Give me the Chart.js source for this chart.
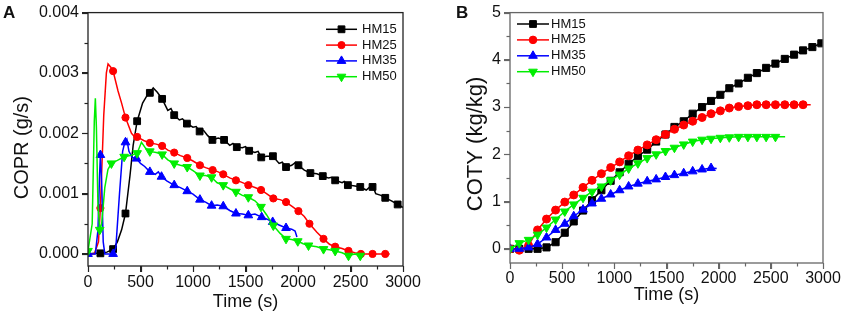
<!DOCTYPE html>
<html>
<head>
<meta charset="utf-8">
<script src="https://cdn.jsdelivr.net/npm/chart.js@4.4.1/dist/chart.umd.min.js"></script>
<style>
  html, body { margin: 0; padding: 0; background: #fff; }
  body { width: 844px; height: 314px; position: relative; overflow: hidden; font-family: "Liberation Sans", Arial, sans-serif; }
  .panel { position: absolute; top: 0; width: 422px; height: 314px; }
  .tag { position: absolute; top: 4px; font-size: 17px; font-weight: bold; line-height: 1; color: #111; }
</style>
</head>
<body>
<div class="panel" style="left:0"><canvas id="chartA" width="422" height="314"></canvas></div>
<div class="panel" style="left:422px"><canvas id="chartB" width="422" height="314"></canvas></div>
<div class="tag" style="left:3px">A</div>
<div class="tag" style="left:456px">B</div>
<script>
const seriesNames = ["HM15", "HM25", "HM35", "HM50"];
const seriesColors = ["#000000", "#ff0000", "#0000ff", "#00ee00"];
const markerStyles = ["rect", "circle", "triangle", "triangle"];
const markerRotations = [0, 0, 0, 180];

// Panel A - COPR (g/s), [time, value]
const hm15LineA = [[0,0],[60,0.00001],[118,0.00001],[180,0.00003],[239,0.00008],[280,0.0002],[320,0.0004],[357,0.00067],[400,0.0013],[430,0.0018],[468,0.0022],[520,0.0025],[560,0.00262],[589,0.00267],[621,0.00275],[660,0.00268],[706,0.00257],[760,0.00238],[790,0.00241],[821,0.0023],[870,0.00222],[900,0.00224],[942,0.00216],[1000,0.0021],[1030,0.00211],[1063,0.00203],[1100,0.00205],[1140,0.00196],[1185,0.00189],[1240,0.00192],[1296,0.00189],[1350,0.0018],[1380,0.00183],[1417,0.00177],[1470,0.00176],[1500,0.00178],[1535,0.00171],[1590,0.00168],[1620,0.0017],[1650,0.0016],[1700,0.00162],[1761,0.00162],[1820,0.0015],[1850,0.00152],[1886,0.00144],[1940,0.00147],[1970,0.00151],[2004,0.00147],[2060,0.00139],[2118,0.00134],[2180,0.00133],[2236,0.00129],[2290,0.00126],[2320,0.00127],[2354,0.00122],[2420,0.00118],[2440,0.0012],[2475,0.00114],[2530,0.00113],[2593,0.00111],[2650,0.00106],[2690,0.00112],[2710,0.00114],[2740,0.001],[2790,0.00097],[2831,0.00093],[2890,0.00088],[2949,0.00082],[3000,0.00077]];
const hm15MarksA = [[118,0.00001],[239,0.00008],[357,0.00067],[468,0.0022],[589,0.00267],[706,0.00257],[821,0.0023],[942,0.00216],[1063,0.00203],[1185,0.00189],[1296,0.00189],[1417,0.00177],[1535,0.00171],[1650,0.0016],[1761,0.00162],[1886,0.00144],[2004,0.00147],[2118,0.00134],[2236,0.00129],[2354,0.00122],[2475,0.00114],[2593,0.00111],[2710,0.00111],[2831,0.00093],[2949,0.00082]];

const hm25LineA = [[0,0],[60,0],[100,0.0002],[118,0.00076],[150,0.0023],[175,0.003],[191,0.00315],[215,0.0031],[239,0.00303],[286,0.0027],[320,0.0025],[357,0.00226],[414,0.002],[440,0.00195],[468,0.00194],[530,0.00188],[589,0.00184],[650,0.00182],[706,0.00179],[760,0.00172],[821,0.00168],[880,0.00163],[945,0.00159],[1000,0.00154],[1066,0.00147],[1120,0.00143],[1187,0.00139],[1240,0.00136],[1288,0.00132],[1350,0.00126],[1409,0.00122],[1460,0.00119],[1527,0.00114],[1590,0.0011],[1648,0.00106],[1700,0.001],[1765,0.00092],[1830,0.0009],[1886,0.00086],[1950,0.00078],[2004,0.00071],[2060,0.00062],[2109,0.0005],[2180,0.00036],[2243,0.00025],[2300,0.00016],[2354,0.00012],[2420,0.00009],[2481,0.00005],[2540,0.00002],[2599,0],[2710,0],[2831,0],[2873,0]];
const hm25MarksA = [[118,0.00076],[239,0.00303],[357,0.00226],[468,0.00194],[589,0.00184],[706,0.00179],[821,0.00168],[945,0.00159],[1066,0.00147],[1187,0.00139],[1288,0.00132],[1409,0.00122],[1527,0.00114],[1648,0.00106],[1765,0.00092],[1886,0.00086],[2004,0.00071],[2109,0.0005],[2243,0.00025],[2354,0.00012],[2481,0.00005],[2599,0],[2710,0],[2831,0]];

const hm35LineA = [[0,0],[70,0],[95,0.0004],[110,0.0013],[118,0.00164],[130,0.0012],[145,0.0002],[160,0],[239,0],[265,0.0001],[300,0.001],[330,0.0017],[350,0.00185],[370,0.0019],[390,0.0017],[420,0.0016],[462,0.00158],[500,0.0015],[540,0.00145],[589,0.00136],[640,0.00132],[670,0.00136],[700,0.00128],[750,0.00121],[790,0.00117],[821,0.00114],[880,0.0011],[945,0.00104],[1000,0.00099],[1066,0.0009],[1120,0.00086],[1177,0.0008],[1230,0.00081],[1288,0.00079],[1350,0.00072],[1409,0.00067],[1470,0.00066],[1527,0.00064],[1590,0.00066],[1654,0.00061],[1700,0.00058],[1759,0.00053],[1820,0.00048],[1886,0.00043],[1940,0.00041],[1972,0.00038],[1990,0.00028]];
const hm35MarksA = [[0,0],[118,0.00164],[239,0],[357,0.00185],[462,0.00158],[589,0.00136],[700,0.00128],[821,0.00114],[945,0.00104],[1066,0.0009],[1177,0.0008],[1288,0.00079],[1409,0.00067],[1527,0.00064],[1654,0.00061],[1759,0.00053],[1886,0.00043]];

const hm50LineA = [[0,0.00005],[40,0.0005],[60,0.0022],[70,0.00258],[80,0.0021],[95,0.0008],[112,0.0004],[130,0.0005],[160,0.0011],[190,0.0014],[223,0.0015],[280,0.00155],[344,0.00161],[400,0.00163],[468,0.00167],[509,0.00185],[550,0.00175],[589,0.0017],[650,0.00168],[706,0.00165],[760,0.00156],[821,0.0015],[880,0.00147],[945,0.00144],[1000,0.00138],[1066,0.0013],[1120,0.0013],[1177,0.00127],[1230,0.00118],[1288,0.00114],[1350,0.00108],[1409,0.00103],[1470,0.00097],[1527,0.00094],[1590,0.00088],[1648,0.00078],[1700,0.00065],[1765,0.00047],[1830,0.00034],[1886,0.00025],[1940,0.00024],[1998,0.00021],[2050,0.00017],[2100,0.00014],[2180,0.00012],[2243,0.00008],[2300,0.00007],[2354,0.00005],[2420,0.00002],[2481,-0.00003],[2540,0],[2593,-0.00003],[2630,0]];
const hm50MarksA = [[0,0.00005],[112,0.0004],[223,0.0015],[344,0.00161],[468,0.00167],[589,0.0017],[706,0.00165],[821,0.0015],[945,0.00144],[1066,0.0013],[1177,0.00127],[1288,0.00114],[1409,0.00103],[1527,0.00094],[1648,0.00078],[1765,0.00047],[1886,0.00025],[1998,0.00021],[2100,0.00014],[2243,0.00008],[2354,0.00005],[2481,-0.00003],[2593,-0.00003]];

const xTicksA = [0, 500, 1000, 1500, 2000, 2500, 3000];
const yTicksA = [0, 0.001, 0.002, 0.003, 0.004];

// Panel B - COTY (kg/kg), sampled at shared times
const timeB = [0, 89, 178, 264, 350, 437, 525, 611, 700, 786, 876, 965, 1051, 1137, 1226, 1315, 1401, 1490, 1576, 1665, 1751, 1841, 1927, 2016, 2102, 2191, 2280, 2366, 2455, 2544, 2634, 2723, 2809, 2898, 2984];
const hm15B = [0, 0, 0, 0, 0.03, 0.14, 0.34, 0.58, 0.81, 1.03, 1.24, 1.44, 1.62, 1.8, 1.96, 2.1, 2.27, 2.42, 2.58, 2.7, 2.86, 3.0, 3.13, 3.26, 3.4, 3.5, 3.62, 3.72, 3.83, 3.92, 4.02, 4.11, 4.2, 4.27, 4.35];
const hm25B = [0, -0.03, 0.07, 0.4, 0.63, 0.82, 0.99, 1.14, 1.3, 1.45, 1.59, 1.72, 1.84, 1.97, 2.09, 2.2, 2.31, 2.42, 2.53, 2.62, 2.7, 2.78, 2.86, 2.92, 2.98, 3.01, 3.03, 3.05, 3.05, 3.05, 3.05, 3.05, 3.05];
const hm35B = [0, 0, 0.03, 0.1, 0.24, 0.4, 0.53, 0.69, 0.83, 0.96, 1.06, 1.15, 1.24, 1.32, 1.38, 1.43, 1.47, 1.52, 1.56, 1.6, 1.64, 1.68, 1.71];
const hm50B = [0, 0.12, 0.19, 0.3, 0.45, 0.62, 0.79, 0.94, 1.08, 1.21, 1.32, 1.45, 1.57, 1.7, 1.81, 1.92, 2.0, 2.07, 2.14, 2.21, 2.27, 2.31, 2.33, 2.35, 2.36, 2.37, 2.37, 2.37, 2.37, 2.37];
const tailB = [[3000, 4.37], [2882, 3.05], [1981, 1.7], [2637, 2.37]];

const xTicksB = [0, 500, 1000, 1500, 2000, 2500, 3000];
const yTicksB = [0, 1, 2, 3, 4, 5];

const FONT = "'Liberation Sans', Arial, sans-serif";

function pts(arr) {
  return arr.map(p => ({ x: p[0], y: p[1] }));
}

// frame around plot area, outward major ticks and a minor tick half way between
const framePlugin = {
  id: "frame",
  afterDraw(chart, args, o) {
    const { ctx, chartArea: a, scales } = chart;
    ctx.save();
    ctx.strokeStyle = o.color;
    ctx.lineWidth = o.width;
    ctx.strokeRect(a.left, a.top, a.right - a.left, a.bottom - a.top);
    ctx.lineWidth = 1.2;
    const tick = (id, value, len) => {
      const p = Math.round(scales[id].getPixelForValue(value)) + 0.5;
      ctx.beginPath();
      if (id === "x") {
        ctx.moveTo(p, a.bottom);
        ctx.lineTo(p, a.bottom + len);
      } else {
        ctx.moveTo(a.left, p);
        ctx.lineTo(a.left - len, p);
      }
      ctx.stroke();
    };
    ["x", "y"].forEach(id => {
      const vals = scales[id].ticks.map(t => t.value);
      vals.forEach(v => tick(id, v, o.major));
      for (let i = 0; i < vals.length - 1; i++) {
        tick(id, (vals[i] + vals[i + 1]) / 2, o.minor);
      }
    });
    ctx.restore();
  }
};

// Origin style legend: short line with the marker in the middle
const lineLegend = {
  id: "lineLegend",
  afterDraw(chart, args, o) {
    const ctx = chart.ctx;
    ctx.save();
    seriesNames.forEach((name, i) => {
      const y = o.y0 + o.dy * i;
      ctx.strokeStyle = seriesColors[i];
      ctx.fillStyle = seriesColors[i];
      ctx.lineWidth = 1.5;
      ctx.beginPath();
      ctx.moveTo(o.x1, y);
      ctx.lineTo(o.x2, y);
      ctx.stroke();
      ctx.lineWidth = 1;
      Chart.helpers.drawPoint(ctx, {
        pointStyle: markerStyles[i],
        rotation: markerRotations[i],
        radius: o.radius[i],
        borderWidth: 1
      }, (o.x1 + o.x2) / 2, y);
      ctx.fillStyle = "#111";
      ctx.font = o.fontSize + "px " + FONT;
      ctx.textBaseline = "middle";
      ctx.textAlign = "left";
      ctx.fillText(name, o.textX, y);
    });
    ctx.restore();
  }
};

function makeChart(id, lines, marks, cfg) {
  const datasets = [];
  lines.forEach((line, i) => {
    datasets.push({
      label: seriesNames[i],
      data: line,
      showLine: true,
      borderColor: seriesColors[i],
      borderWidth: 1.5,
      pointRadius: 0,
      tension: 0,
      order: 20 - i * 2
    });
    datasets.push({
      label: seriesNames[i] + " marks",
      data: marks[i],
      showLine: false,
      pointStyle: markerStyles[i],
      rotation: markerRotations[i],
      pointRadius: cfg.radius[i],
      pointBackgroundColor: seriesColors[i],
      pointBorderColor: seriesColors[i],
      pointBorderWidth: 1,
      order: 19 - i * 2
    });
  });

  return new Chart(document.getElementById(id), {
    type: "scatter",
    data: { datasets: datasets },
    options: {
      responsive: false,
      animation: false,
      layout: { padding: cfg.padding },
      plugins: {
        legend: { display: false },
        tooltip: { enabled: false },
        frame: { color: cfg.frameColor, width: 1.3, major: 6, minor: 3.5 },
        lineLegend: cfg.legend
      },
      scales: {
        x: {
          type: "linear",
          min: 0,
          max: 3000,
          afterBuildTicks: s => { s.ticks = cfg.xTicks.map(v => ({ value: v })); },
          afterFit: s => { s.height = cfg.xHeight; },
          ticks: {
            color: "#111",
            font: { family: FONT, size: 16 },
            padding: cfg.xTickPad,
            maxRotation: 0,
            callback: v => String(v)
          },
          grid: { drawOnChartArea: false, drawTicks: true, tickLength: 6, color: cfg.frameColor, tickWidth: 1 },
          border: { display: false },
          title: {
            display: true,
            text: "Time (s)",
            color: "#111",
            font: { family: FONT, size: 18 },
            padding: { top: 0, bottom: cfg.xTitlePad }
          }
        },
        y: {
          type: "linear",
          min: cfg.yMin,
          max: cfg.yMax,
          afterBuildTicks: s => { s.ticks = cfg.yTicks.map(v => ({ value: v })); },
          afterFit: s => { s.width = 88; },
          ticks: {
            color: "#111",
            font: { family: FONT, size: 16 },
            padding: 3,
            callback: cfg.yFormat
          },
          grid: { drawOnChartArea: false, drawTicks: true, tickLength: 6, color: cfg.frameColor, tickWidth: 1 },
          border: { display: false },
          title: {
            display: true,
            text: cfg.yTitle,
            color: "#111",
            font: { family: FONT, size: cfg.yTitleSize },
            padding: { top: cfg.yTitlePad, bottom: 0 }
          }
        }
      }
    },
    plugins: [framePlugin, lineLegend]
  });
}

makeChart("chartA",
  [pts(hm15LineA), pts(hm25LineA), pts(hm35LineA), pts(hm50LineA)],
  [pts(hm15MarksA), pts(hm25MarksA), pts(hm35MarksA), pts(hm50MarksA)],
  {
    padding: { left: 0, top: 12, right: 19, bottom: 0 },
    xHeight: 48,
    xTickPad: 1,
    xTitlePad: 1.5,
    yTitlePad: 10,
    yTitleSize: 20,
    yMin: -0.0002,
    yMax: 0.004,
    xTicks: xTicksA,
    yTicks: yTicksA,
    // trailing spaces push the rotated title a little down, as in the figure
    yTitle: "COPR (g/s)   ",
    yFormat: v => v.toFixed(3),
    frameColor: "#222",
    radius: [4.8, 3.6, 5, 5],
    legend: { x1: 326, x2: 357, textX: 362, y0: 29.3, dy: 15.8, fontSize: 13, radius: [4.8, 3.6, 5, 5] }
  });

const bLines = [hm15B, hm25B, hm35B, hm50B].map((vals, i) =>
  vals.map((v, k) => ({ x: timeB[k], y: v })).concat([{ x: tailB[i][0], y: tailB[i][1] }]));
const bMarks = [hm15B, hm25B, hm35B, hm50B].map(vals =>
  vals.map((v, k) => ({ x: timeB[k], y: v })));

makeChart("chartB", bLines, bMarks, {
  padding: { left: 0, top: 10, right: 21, bottom: 0 },
  xHeight: 51,
  xTickPad: 0,
  xTitlePad: 8.5,
  yTitlePad: 41,
  yTitleSize: 22,
  yMin: -0.3,
  yMax: 5,
  xTicks: xTicksB,
  yTicks: yTicksB,
  yTitle: "COTY (kg/kg)  ",
  yFormat: v => String(v),
  frameColor: "#666",
  radius: [5, 4, 5, 5],
  legend: { x1: 95, x2: 127, textX: 129, y0: 24, dy: 15.9, fontSize: 13, radius: [4.8, 3.8, 5, 5] }
});
</script>
</body>
</html>
